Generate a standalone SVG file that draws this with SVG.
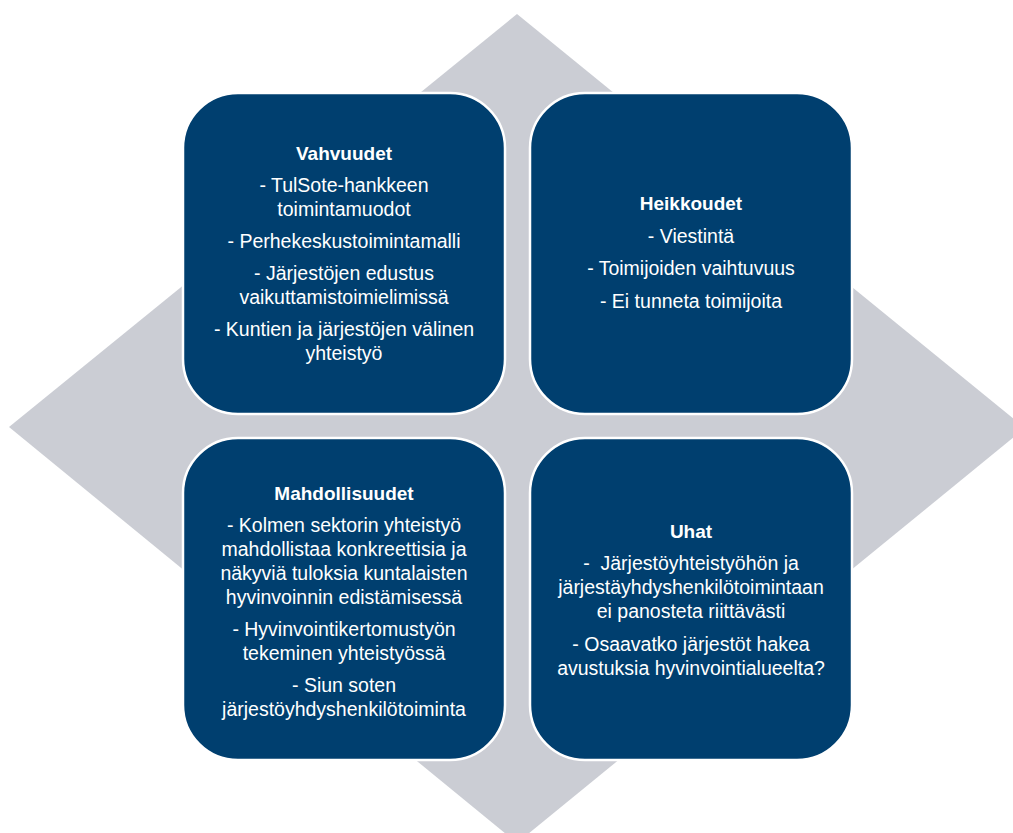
<svg xmlns="http://www.w3.org/2000/svg" width="1013" height="833" viewBox="0 0 1013 833">
<style>
.box{fill:#003F6F;stroke:#ffffff;stroke-width:2.5}
.t{font-family:"Liberation Sans",Arial,sans-serif;font-size:19.5px;fill:#ffffff;text-anchor:middle}
.h{font-weight:bold;font-size:19px}
</style>
<rect width="1013" height="833" fill="#ffffff"/>
<g id="background">
<polygon points="517,14 1025,428 517,843 9,427" fill="#CBCDD4"/>
</g>
<g id="connectors"></g>
<g id="vahvuudet">
<rect class="box" x="183" y="93" width="322" height="321" rx="55" ry="55"/>
<text class="t h" x="344" y="160">Vahvuudet</text>
<text class="t" x="344" y="192">- TulSote-hankkeen</text>
<text class="t" x="344" y="216">toimintamuodot</text>
<text class="t" x="344" y="248">- Perhekeskustoimintamalli</text>
<text class="t" x="344" y="280">- Järjestöjen edustus</text>
<text class="t" x="344" y="304">vaikuttamistoimielimissä</text>
<text class="t" x="344" y="336">- Kuntien ja järjestöjen välinen</text>
<text class="t" x="344" y="360">yhteistyö</text>
</g>
<g id="heikkoudet">
<rect class="box" x="530" y="93" width="322" height="321" rx="55" ry="55"/>
<text class="t h" x="691" y="210">Heikkoudet</text>
<text class="t" x="691" y="243">- Viestintä</text>
<text class="t" x="691" y="275">- Toimijoiden vaihtuvuus</text>
<text class="t" x="691" y="308">- Ei tunneta toimijoita</text>
</g>
<g id="mahdollisuudet">
<rect class="box" x="183" y="438" width="322" height="322" rx="55" ry="55"/>
<text class="t h" x="344" y="500">Mahdollisuudet</text>
<text class="t" x="344" y="532">- Kolmen sektorin yhteistyö</text>
<text class="t" x="344" y="556">mahdollistaa konkreettisia ja</text>
<text class="t" x="344" y="580">näkyviä tuloksia kuntalaisten</text>
<text class="t" x="344" y="604">hyvinvoinnin edistämisessä</text>
<text class="t" x="344" y="636">- Hyvinvointikertomustyön</text>
<text class="t" x="344" y="660">tekeminen yhteistyössä</text>
<text class="t" x="344" y="692">- Siun soten</text>
<text class="t" x="344" y="716">järjestöyhdyshenkilötoiminta</text>
</g>
<g id="uhat">
<rect class="box" x="530" y="438" width="322" height="322" rx="55" ry="55"/>
<text class="t h" x="691" y="538">Uhat</text>
<text class="t" x="691" y="570" xml:space="preserve">-  Järjestöyhteistyöhön ja</text>
<text class="t" x="691" y="594">järjestäyhdyshenkilötoimintaan</text>
<text class="t" x="691" y="618">ei panosteta riittävästi</text>
<text class="t" x="691" y="651">- Osaavatko järjestöt hakea</text>
<text class="t" x="691" y="675">avustuksia hyvinvointialueelta?</text>
</g>
</svg>
